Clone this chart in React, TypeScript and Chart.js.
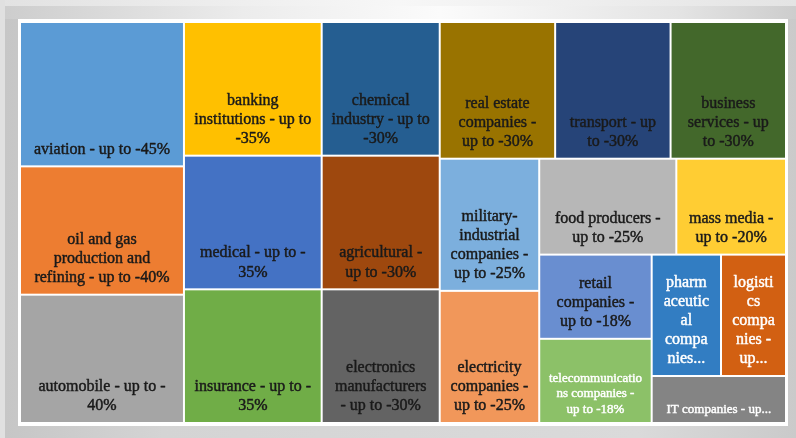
import React, { useEffect, useRef } from "react";
import { Chart, registerables } from "chart.js";

Chart.register(...registerables);

// ---------- data ----------
const categories: string[] = [
  "aviation - up to -45%",
  "oil and gas production and refining - up to -40%",
  "automobile - up to -40%",
  "banking institutions - up to -35%",
  "medical - up to -35%",
  "insurance - up to -35%",
  "chemical industry - up to -30%",
  "agricultural - up to -30%",
  "electronics manufacturers - up to -30%",
  "real estate companies - up to -30%",
  "transport - up to -30%",
  "business services - up to -30%",
  "military-industrial companies - up to -25%",
  "electricity companies - up to -25%",
  "food producers - up to -25%",
  "mass media - up to -20%",
  "retail companies - up to -18%",
  "telecommunications companies - up to -18%",
  "pharmaceutical companies - up to -16%",
  "logistics companies - up to -15%",
  "IT companies - up to -12%",
];

const values: number[] = [45, 40, 40, 35, 35, 35, 30, 30, 30, 30, 30, 30, 25, 25, 25, 20, 18, 18, 16, 15, 12];

// ---------- styles ----------
const cellColors: string[] = [
  "#5b9bd5", "#ed7d31", "#a5a5a5", "#ffc000", "#4472c4", "#70ad47",
  "#255e91", "#9e480e", "#636363", "#997300", "#264478", "#43682b",
  "#7cafdd", "#f1975a", "#b7b7b7", "#ffcd33", "#698ed0", "#8cc168",
  "#327dc2", "#d26012", "#848484",
];
const whiteLabelCategories = new Set<number>([17, 18, 19, 20]);
const smallLabelCategories = new Set<number>([17, 20]);
const DARK_TEXT = "#1a1a1a";
const LIGHT_TEXT = "#ffffff";
const FONT_FAMILY = '"Liberation Serif", "Times New Roman", serif';

type R = { i: number; x: number; y: number; w: number; h: number };

function worst(row: number[], side: number): number {
  const s = row.reduce((a, b) => a + b, 0);
  let m = 0;
  for (const r of row) {
    const a = (side * side * r) / (s * s);
    const b = (s * s) / (side * side * r);
    m = Math.max(m, a, b);
  }
  return m;
}

function squarify(vals: number[], W: number, H: number): R[] {
  const order = vals.map((v, i) => ({ v, i })).sort((a, b) => b.v - a.v || a.i - b.i);
  const total = vals.reduce((a, b) => a + b, 0);
  const k = (W * H) / total;
  const areas = order.map((o) => o.v * k);
  let x = 0, y = 0, w = W, h = H;
  const out: R[] = [];
  let i = 0;
  while (i < areas.length) {
    const side = Math.min(w, h);
    let row = [areas[i]];
    let j = i + 1;
    while (j < areas.length) {
      const nr = row.concat(areas[j]);
      if (worst(nr, side) <= worst(row, side)) {
        row = nr;
        j++;
      } else break;
    }
    const rs = row.reduce((a, b) => a + b, 0);
    if (w >= h) {
      const cw = rs / h;
      let cy = y;
      row.forEach((a, n) => {
        const rh = a / cw;
        out.push({ i: order[i + n].i, x, y: cy, w: cw, h: rh });
        cy += rh;
      });
      x += cw;
      w -= cw;
    } else {
      const rh = rs / w;
      let cx = x;
      row.forEach((a, n) => {
        const rw = a / rh;
        out.push({ i: order[i + n].i, x: cx, y, w: rw, h: rh });
        cx += rw;
      });
      y += rh;
      h -= rh;
    }
    i = j;
  }
  return out;
}

function tokenize(text: string) {
  const out: { s: string; space: boolean }[] = [];
  text.split(" ").forEach((word, wi) => {
    const parts = word.match(/[^-]*-+|[^-]+/g) || [word];
    parts.forEach((p, pi) => out.push({ s: p, space: wi > 0 && pi === 0 }));
  });
  return out;
}

function wrap(ctx: CanvasRenderingContext2D, text: string, maxW: number): string[] {
  const toks = tokenize(text);
  const lines: string[] = [];
  let cur = "";
  for (const t of toks) {
    const cand = cur === "" ? t.s : cur + (t.space ? " " : "") + t.s;
    if (ctx.measureText(cand).width <= maxW) {
      cur = cand;
      continue;
    }
    if (cur !== "") {
      lines.push(cur);
      cur = "";
    }
    if (ctx.measureText(t.s).width <= maxW) {
      cur = t.s;
      continue;
    }
    let piece = "";
    for (const ch of t.s) {
      if (piece !== "" && ctx.measureText(piece + ch).width > maxW) {
        lines.push(piece);
        piece = ch;
      } else piece += ch;
    }
    cur = piece;
  }
  if (cur) lines.push(cur);
  return lines;
}

function labelWidth(cellW: number): number {
  return cellW < 80 ? cellW - 21.8 : cellW * 0.95 - 13.5;
}

const treemapPlugin = {
  id: "treemapCells",
  afterDatasetsDraw(chart: any) {
    const { ctx, chartArea } = chart;
    const xs = chart.scales.x;
    const ys = chart.scales.y;
    const vals = chart.data.datasets[0].data as number[];
    const W = chartArea.right - chartArea.left;
    const H = chartArea.bottom - chartArea.top;
    const rects = squarify(vals, W, H);
    ctx.save();
    for (const r of rects) {
      const px0 = xs.getPixelForValue(r.x / W);
      const px1 = xs.getPixelForValue((r.x + r.w) / W);
      const py0 = ys.getPixelForValue(r.y / H);
      const py1 = ys.getPixelForValue((r.y + r.h) / H);
      ctx.fillStyle = cellColors[r.i];
      ctx.fillRect(px0 + 1, py0 + 1, px1 - px0 - 2, py1 - py0 - 2);
    }
    for (const r of rects) {
      const px0 = xs.getPixelForValue(r.x / W);
      const px1 = xs.getPixelForValue((r.x + r.w) / W);
      const py0 = ys.getPixelForValue(r.y / H);
      const py1 = ys.getPixelForValue((r.y + r.h) / H);
      const fs = smallLabelCategories.has(r.i) ? 13 : 16;
      const lh = fs * 1.19;
      ctx.font = `${fs}px ${FONT_FAMILY}`;
      const avail = labelWidth(px1 - px0);
      let lines = wrap(ctx, chart.data.labels[r.i], avail);
      const maxLines = Math.max(1, Math.floor((py1 - py0 - 20) / lh));
      if (lines.length > maxLines) {
        const kept = lines.slice(0, maxLines);
        let last = kept[maxLines - 1];
        const ws = last.split(" ");
        if (ws.length > 1) ws.pop();
        last = ws.join(" ");
        while (last.length > 0 && ctx.measureText(last + "...").width > avail) {
          const w2 = last.split(" ");
          if (w2.length > 1) {
            w2.pop();
            last = w2.join(" ");
          } else last = last.slice(0, -1);
        }
        kept[maxLines - 1] = last + "...";
        lines = kept;
      }
      const col = whiteLabelCategories.has(r.i) ? LIGHT_TEXT : DARK_TEXT;
      ctx.fillStyle = col;
      ctx.strokeStyle = col;
      ctx.lineWidth = 0.45;
      ctx.lineJoin = "round";
      ctx.textAlign = "center";
      ctx.textBaseline = "alphabetic";
      const cx = (px0 + px1) / 2;
      const lastBase = py1 - fs * 0.8;
      lines.forEach((ln, n) => {
        const yy = lastBase - (lines.length - 1 - n) * lh;
        ctx.fillText(ln, cx, yy);
        ctx.strokeText(ln, cx, yy);
      });
    }
    ctx.restore();
  },
};

export default function App() {
  const ref = useRef<HTMLCanvasElement | null>(null);
  useEffect(() => {
    if (!ref.current) return;
    const chart = new Chart(ref.current, {
      type: "scatter",
      data: {
        labels: categories,
        datasets: [
          {
            label: "sectors",
            data: values as any,
            pointRadius: 0,
            pointHoverRadius: 0,
          },
        ],
      },
      options: {
        animation: false,
        responsive: true,
        maintainAspectRatio: false,
        events: [],
        layout: { padding: 0 },
        plugins: { legend: { display: false }, tooltip: { enabled: false } },
        scales: {
          x: { type: "linear", min: 0, max: 1, display: false },
          y: { type: "linear", min: 0, max: 1, reverse: true, display: false },
        },
      },
      plugins: [treemapPlugin],
    });
    return () => chart.destroy();
  }, []);

  return (
    <div style={{ position: "fixed", left: 0, top: 0, width: 796, height: 438, background: "#d2d2d2", overflow: "hidden" }}>
      <div style={{ position: "absolute", left: 0, top: 0, width: 796, height: 6, background: "linear-gradient(to right, #e2e2e2, #f7f7f7 50%, #e4e4e4)" }} />
      <div style={{ position: "absolute", left: 0, top: 0, width: 5, height: 438, background: "#e0e0e0" }} />
      <div style={{ position: "absolute", left: 5, top: 6, width: 791, height: 432, background: "linear-gradient(to right, #c6c6c6, #d4d4d4 20%, #dadada 80%, #cacaca)" }} />
      <div style={{ position: "absolute", left: 5, top: 6, width: 791, height: 13, background: "linear-gradient(to right, #cdcdcd, #ececec 30%, #fbfbfb 55%, #e4e4e4 85%, #cdcdcd)" }} />
      <div style={{ position: "absolute", left: 18, top: 19, width: 770, height: 407, background: "#ffffff" }} />
      <div style={{ position: "absolute", left: 20, top: 22, width: 766, height: 401 }}>
        <canvas ref={ref} />
      </div>
    </div>
  );
}
